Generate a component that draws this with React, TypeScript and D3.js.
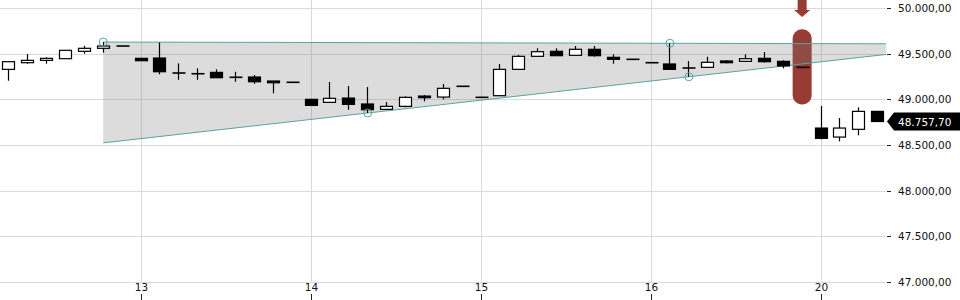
import React from "react";
import * as d3 from "d3";

const dayLabels = ["13", "14", "15", "16", "20"];
const dayStartIndex = [7, 16, 25, 34, 43];
const yTicks = [47000, 47500, 48000, 48500, 49000, 49500, 50000];

const opens = [49330, 49403, 49429, 49447, 49528, 49561, 49586, 49451, 49454, 49290, 49282, 49297, 49243, 49246, 49202, 49188, 49001, 48968, 49015, 48950, 48891, 48924, 49037, 49026, 49144, 49023, 49041, 49330, 49473, 49528, 49484, 49550, 49462, 49440, 49403, 49389, 49348, 49352, 49422, 49418, 49451, 49418, 49352, 48686, 48587, 48672, 48869];
const highs = [49414, 49498, 49462, 49539, 49589, 49630, 49586, 49451, 49625, 49396, 49341, 49330, 49304, 49268, 49202, 49188, 49001, 49191, 49147, 49136, 48971, 49034, 49048, 49169, 49144, 49023, 49389, 49487, 49561, 49561, 49586, 49586, 49495, 49440, 49403, 49616, 49422, 49469, 49432, 49495, 49520, 49429, 49352, 48928, 48796, 48913, 48869];
const lows = [49205, 49392, 49392, 49447, 49502, 49513, 49586, 49425, 49276, 49216, 49216, 49238, 49194, 49172, 49067, 49188, 48935, 48968, 48887, 48851, 48891, 48913, 48979, 49001, 49144, 49023, 49041, 49330, 49473, 49480, 49484, 49469, 49392, 49440, 49403, 49330, 49249, 49352, 49396, 49418, 49403, 49341, 49352, 48562, 48540, 48606, 48757.7];
const closes = [49414, 49429, 49451, 49539, 49561, 49586, 49586, 49425, 49304, 49290, 49282, 49238, 49243, 49194, 49183, 49188, 48935, 49012, 48946, 48887, 48924, 49023, 49019, 49122, 49144, 49023, 49330, 49473, 49524, 49480, 49550, 49480, 49440, 49440, 49403, 49330, 49342, 49407, 49403, 49447, 49414, 49367, 49352, 48573, 48686, 48869, 48757.7];

// trendline anchor points (candle index, price)
const upperIdx = [5, 35];
const upperVal = [49630, 49616];
const lowerIdx = [19, 36];
const lowerVal = [48851, 49249];

// signal marker
const signalIdx = 42;
const signalRange = [48945, 49770];

const W = 960;
const H = 300;
const plotRight = 886;

const fmt = (v: number) => {
  const s = v.toFixed(2);
  const [intPart, dec] = s.split(".");
  const withDots = intPart.replace(/\B(?=(\d{3})+(?!\d))/g, ".");
  return withDots + "," + dec;
};

export default function App() {
  const n = opens.length;
  const x = d3.scaleLinear().domain([0, n - 1]).range([8.8, 877.7]);
  const y = d3.scaleLinear().domain([47000, 50000]).range([281.7, 8.3]);
  const bw = 12;
  const font = "'DejaVu Sans', sans-serif";

  const lineAt = (idx: number[], val: number[], i: number) =>
    val[0] + ((val[1] - val[0]) * (i - idx[0])) / (idx[1] - idx[0]);
  const iEnd = x.invert(plotRight);
  const iStart = upperIdx[0];
  const uS = lineAt(upperIdx, upperVal, iStart);
  const uE = lineAt(upperIdx, upperVal, iEnd);
  const lS = lineAt(lowerIdx, lowerVal, iStart);
  const lE = lineAt(lowerIdx, lowerVal, iEnd);

  const band = d3.line<[number, number]>()([
    [x(iStart), y(uS)],
    [x(iEnd), y(uE)],
    [x(iEnd), y(lE)],
    [x(iStart), y(lS)],
  ]) + "Z";

  const teal = "#5aa3a3";
  const red = "#973c35";
  const lastClose = closes[n - 1];
  const ly = y(lastClose);

  const sx = x(signalIdx);
  const sTop = y(signalRange[1]);
  const sBot = y(signalRange[0]);

  return (
    <svg width={W} height={H} style={{ position: "absolute", left: 0, top: 0, background: "#fff" }}>
      {/* horizontal grid */}
      {yTicks.map((t) => (
        <g key={"h" + t}>
          <line x1={0} x2={plotRight} y1={Math.round(y(t)) + 0.5} y2={Math.round(y(t)) + 0.5} stroke="#dadada" />
          <line x1={plotRight + 1} x2={plotRight + 5} y1={Math.round(y(t)) + 0.5} y2={Math.round(y(t)) + 0.5} stroke="#222" />
          <text x={898} y={y(t)} dominantBaseline="central" fontFamily={font} fontSize={10.5} fill="#111">
            {fmt(t)}
          </text>
        </g>
      ))}
      {/* vertical grid */}
      {dayStartIndex.map((di, k) => {
        const xx = Math.floor(x(di)) + 0.5;
        return (
          <g key={"v" + di}>
            <line x1={xx} x2={xx} y1={0} y2={y(47000)} stroke="#dadada" />
            <line x1={xx} x2={xx} y1={294} y2={300} stroke="#222" />
            <text x={xx} y={286.5} textAnchor="middle" dominantBaseline="central" fontFamily={font} fontSize={10.5} fill="#111">
              {dayLabels[k]}
            </text>
          </g>
        );
      })}
      {/* signal marker */}
      <rect x={sx - 9.5} y={sTop} width={19} height={sBot - sTop} rx={9} ry={9} fill={red} />
      <path
        d={`M${sx - 4.5},0 L${sx + 4.5},0 L${sx + 4.5},10 L${sx + 8},10 L${sx},17 L${sx - 8},10 L${sx - 4.5},10 Z`}
        fill={red}
      />
      {/* triangle band */}
      <path d={band} fill="rgba(120,120,120,0.26)" />
      <line x1={x(iStart)} y1={y(uS)} x2={x(iEnd)} y2={y(uE)} stroke={teal} strokeWidth={1} />
      <line x1={x(iStart)} y1={y(lS)} x2={x(iEnd)} y2={y(lE)} stroke={teal} strokeWidth={1} />
      {/* candles */}
      {opens.map((o, i) => {
        const c = closes[i];
        const cx = Math.floor(x(i)) + 0.5;
        const yo = y(o);
        const yc = y(c);
        const yh = y(highs[i]);
        const yl = y(lows[i]);
        const top = Math.min(yo, yc);
        const bot = Math.max(yo, yc);
        const up = c >= o;
        const flat = bot - top < 1.5;
        return (
          <g key={"c" + i}>
            <line x1={cx} x2={cx} y1={yh} y2={yl} stroke="#000" strokeWidth={1.2} />
            {flat ? (
              <line x1={cx - bw / 2} x2={cx + bw / 2 + 1} y1={(top + bot) / 2} y2={(top + bot) / 2} stroke="#000" strokeWidth={1.6} />
            ) : (
              <rect
                x={cx - bw / 2}
                y={top}
                width={bw}
                height={bot - top}
                fill={up ? "#fff" : "#000"}
                stroke="#000"
                strokeWidth={1.2}
              />
            )}
          </g>
        );
      })}
      {/* anchor circles */}
      {[
        [upperIdx[0], upperVal[0]],
        [upperIdx[1], upperVal[1]],
        [lowerIdx[0], lowerVal[0]],
        [lowerIdx[1], lowerVal[1]],
      ].map(([i, v], k) => (
        <circle key={"a" + k} cx={x(i)} cy={y(v)} r={4} fill="none" stroke={teal} strokeWidth={1} />
      ))}
      {/* last price label */}
      <path d={`M${plotRight + 1},${ly} L${plotRight + 8},${ly - 9} L${W},${ly - 9} L${W},${ly + 9} L${plotRight + 8},${ly + 9} Z`} fill="#000" />
      <text x={898} y={ly} dominantBaseline="central" fontFamily={font} fontSize={10.5} fill="#fff">
        {fmt(lastClose)}
      </text>
    </svg>
  );
}
